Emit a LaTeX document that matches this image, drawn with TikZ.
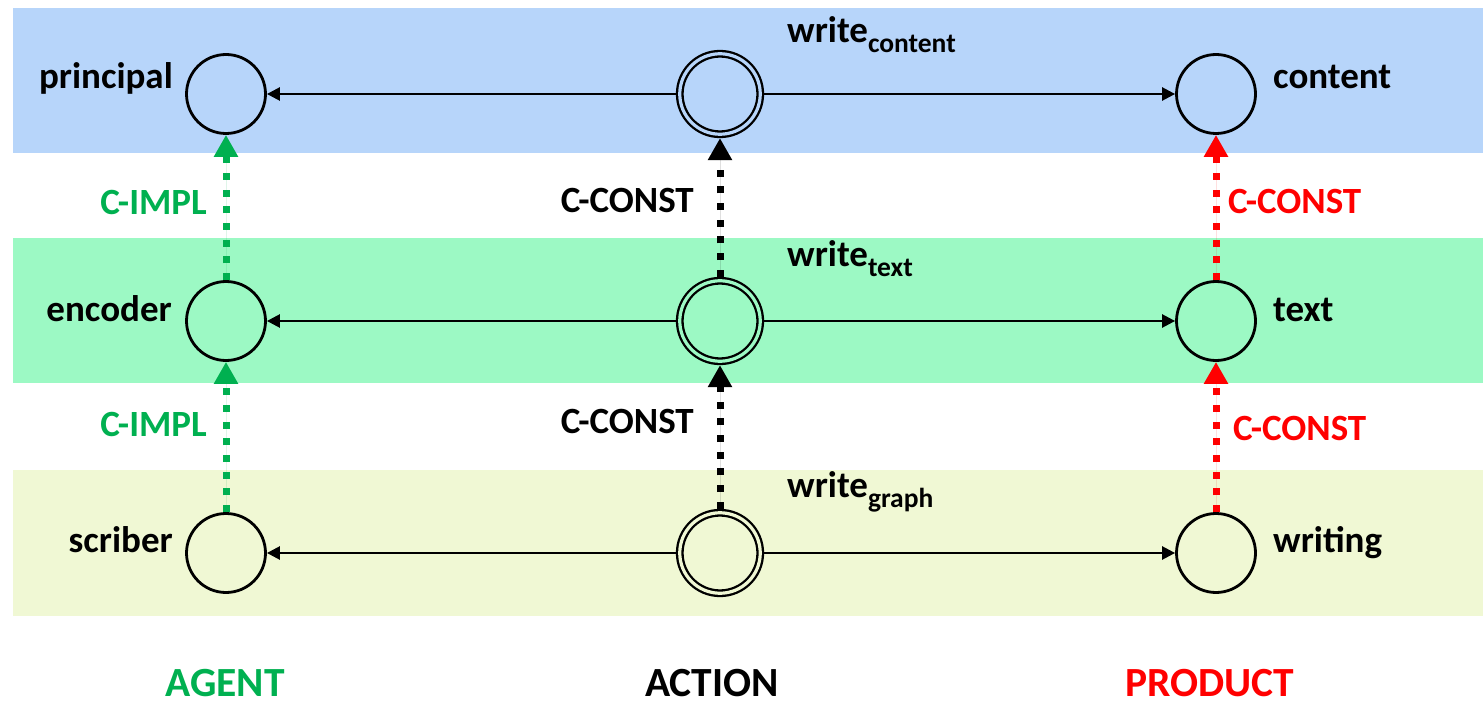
\documentclass[tikz,border=0pt]{standalone}
\usepackage{fontspec}
\setmainfont{Carlito}
\usetikzlibrary{arrows.meta}

\definecolor{bandblue}{RGB}{183,213,250}
\definecolor{bandgreen}{RGB}{156,249,196}
\definecolor{bandyellow}{RGB}{240,248,212}
\definecolor{implgreen}{RGB}{0,176,80}
\definecolor{constred}{RGB}{255,0,0}

\tikzset{
  role/.style={circle, draw=black, line width=2.8pt, minimum size=79pt, inner sep=0pt},
  act/.style={circle, draw=black, line width=2.3pt, double distance=3.2pt,
               minimum size=80.5pt, inner sep=0pt, outer sep=3.9pt},
  lbl/.style={font=\fontsize{37}{40}\selectfont\bfseries, inner sep=0pt},
  axis/.style={font=\fontsize{41.5}{46}\selectfont\bfseries, inner sep=0pt,
               text depth=0pt, anchor=base},
  hconn/.style={draw=black, line width=2.5pt, -{Triangle[length=13pt,width=13pt]}},
  vconn/.style={line width=7pt, dash pattern=on 7pt off 9.7pt,
                -{Triangle[length=22pt,width=23pt]}},
}
\newcommand{\wsub}[1]{write\raisebox{-10pt}{\fontsize{27.5}{30}\selectfont #1}}

\begin{document}
\begin{tikzpicture}[x=1pt,y=-1pt]
  \useasboundingbox (0,0) rectangle (1483,703);

  % layer bands
  \fill[bandblue]   (13,8)   rectangle (1483,153);
  \fill[bandgreen]  (13,238) rectangle (1483,383);
  \fill[bandyellow] (13,470) rectangle (1483,616);

  % agents
  \node[role] (a1) at (226,94)  {};
  \node[role] (a2) at (226,321) {};
  \node[role] (a3) at (226,553) {};
  % actions
  \node[act, double=bandblue]   (m1) at (720,94)  {};
  \node[act, double=bandgreen]  (m2) at (720,321) {};
  \node[act, double=bandyellow] (m3) at (720,553) {};
  % products
  \node[role] (p1) at (1216,94)  {};
  \node[role] (p2) at (1216,321) {};
  \node[role] (p3) at (1216,553) {};

  % node labels
  \node[lbl, anchor=base east] at (173,89)  {principal};
  \node[lbl, anchor=base east] at (172,322) {encoder};
  \node[lbl, anchor=base east] at (173,552) {scriber};
  \node[lbl, anchor=base west] at (1273,89)  {content};
  \node[lbl, anchor=base west] at (1273,322) {text};
  \node[lbl, anchor=base west] at (1273,552) {writing};
  \node[lbl, anchor=base west] at (787,43)  {\wsub{content}};
  \node[lbl, anchor=base west] at (787,267) {\wsub{text}};
  \node[lbl, anchor=base west] at (787,497) {\wsub{graph}};

  % action links
  \draw[hconn] (m1) -- (a1);
  \draw[hconn] (m1) -- (p1);
  \draw[hconn] (m2) -- (a2);
  \draw[hconn] (m2) -- (p2);
  \draw[hconn] (m3) -- (a3);
  \draw[hconn] (m3) -- (p3);

  % inter-layer relations
  \draw[vconn, draw=implgreen, fill=implgreen] (a2) -- (a1);
  \draw[vconn, draw=implgreen, fill=implgreen] (a3) -- (a2);
  \draw[vconn, draw=black, fill=black] (m2) -- (m1);
  \draw[vconn, draw=black, fill=black] (m3) -- (m2);
  \draw[vconn, draw=constred, fill=constred] (p2) -- (p1);
  \draw[vconn, draw=constred, fill=constred] (p3) -- (p2);

  \node[lbl, text=implgreen, anchor=base east] at (207,215) {C-IMPL};
  \node[lbl, text=implgreen, anchor=base east] at (207,436) {C-IMPL};
  \node[lbl, anchor=base east] at (694,213) {C-CONST};
  \node[lbl, anchor=base east] at (694,433) {C-CONST};
  \node[lbl, text=constred, anchor=base west] at (1228,214) {C-CONST};
  \node[lbl, text=constred, anchor=base west] at (1233,440) {C-CONST};

  % column headings
  \node[axis, text=implgreen] at (225,696)  {AGENT};
  \node[axis]                 at (712,696)  {ACTION};
  \node[axis, text=constred]  at (1210,696) {PRODUCT};
\end{tikzpicture}
\end{document}
